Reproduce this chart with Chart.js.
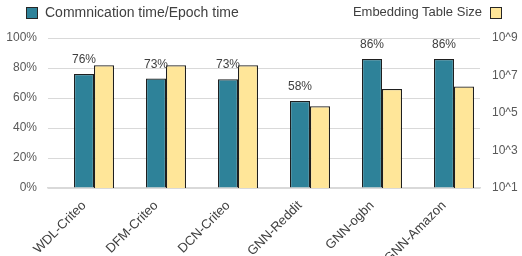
<!DOCTYPE html>
<html>
<head>
<meta charset="utf-8">
<script src="https://cdn.jsdelivr.net/npm/chart.js@4/dist/chart.umd.min.js"></script>
<style>
  body{margin:0;background:#fff;font-family:"Liberation Sans",Arial,sans-serif;}
  #wrap{position:relative;width:522px;height:256px;}
  .leg{position:absolute;top:4px;height:16px;line-height:16px;color:#404040;white-space:nowrap;}
  .sq{position:absolute;top:7px;width:10px;height:10px;border:1px solid #262626;}
</style>
</head>
<body>
<div id="wrap">
  <canvas id="ch" width="522" height="256"></canvas>
  <span class="sq" style="left:26px;background:#2E8299"></span>
  <span class="leg" style="left:45px;font-size:14px">Commnication time/Epoch time</span>
  <span class="leg" style="right:40px;font-size:13px">Embedding Table Size</span>
  <span class="sq" style="left:490px;background:#FFE699"></span>
</div>
<script>
// datos
const categorias=["WDL-Criteo","DFM-Criteo","DCN-Criteo","GNN-Reddit","GNN-ogbn","GNN-Amazon"];
const ratioComm=[76,73,72.5,58,86,86];            // % tiempo de comunicacion / epoch
const tamEmb=[3.5e7,3.5e7,3.5e7,2.3e5,1.9e6,2.6e6]; // tamano tabla embedding (log)
const ticksIzq=[0,20,40,60,80,100];
const ticksDer=[1e1,1e3,1e5,1e7,1e9];

const C={teal:"#2E8299",amarillo:"#FFE699",borde:"#1F1F1F",grid:"#D9D9D9",txt:"#595959"};

// etiquetas % encima de las barras azules
const etiquetas={id:"etiquetas",afterDatasetsDraw(chart){
  const ctx=chart.ctx,meta=chart.getDatasetMeta(1);
  ctx.save();ctx.font="12px 'Liberation Sans',Arial,sans-serif";ctx.fillStyle="#404040";
  ctx.textAlign="center";ctx.textBaseline="alphabetic";
  meta.data.forEach((b,i)=>ctx.fillText(Math.round(ratioComm[i])+"%",b.x,b.y-11));
  ctx.restore();
}};

new Chart(document.getElementById("ch"),{
  type:"bar",
  data:{labels:categorias,datasets:[
    {label:"",data:categorias.map(()=>null),yAxisID:"y"},
    {label:"Commnication time/Epoch time",data:ratioComm,yAxisID:"y",backgroundColor:C.teal,borderColor:C.borde,borderWidth:1.2},
    {label:"Embedding Table Size",data:tamEmb,yAxisID:"y1",backgroundColor:C.amarillo,borderColor:C.borde,borderWidth:1.2}
  ]},
  options:{
    responsive:false,animation:false,
    categoryPercentage:60/72,barPercentage:1,
    layout:{padding:{top:38,left:0,right:0,bottom:0}},
    plugins:{legend:{display:false},tooltip:{enabled:false}},
    scales:{
      x:{grid:{display:false,drawTicks:false},border:{display:true,color:C.grid,width:1.5},
         ticks:{color:"#404040",font:{size:13,family:"'Liberation Sans',Arial,sans-serif"},minRotation:45,maxRotation:45,padding:10,autoSkip:false},
         afterFit(s){s.height=68;}},
      y:{position:"left",min:0,max:100,
         grid:{color:C.grid,drawTicks:false},border:{display:false},
         afterBuildTicks(s){s.ticks=ticksIzq.map(v=>({value:v}));},
         ticks:{color:C.txt,padding:11,font:{size:12,family:"'Liberation Sans',Arial,sans-serif"},callback:v=>v+"%"},
         afterFit(s){s.width=48;}},
      y1:{position:"right",type:"logarithmic",min:10,max:1e9,
         grid:{display:false,drawTicks:false},border:{display:false},
         afterBuildTicks(s){s.ticks=ticksDer.map(v=>({value:v}));},
         ticks:{color:C.txt,padding:12,font:{size:12,family:"'Liberation Sans',Arial,sans-serif"},callback:v=>"10^"+Math.round(Math.log10(v))},
         afterFit(s){s.width=42;}}
    }
  },
  plugins:[etiquetas]
});
</script>
</body>
</html>
